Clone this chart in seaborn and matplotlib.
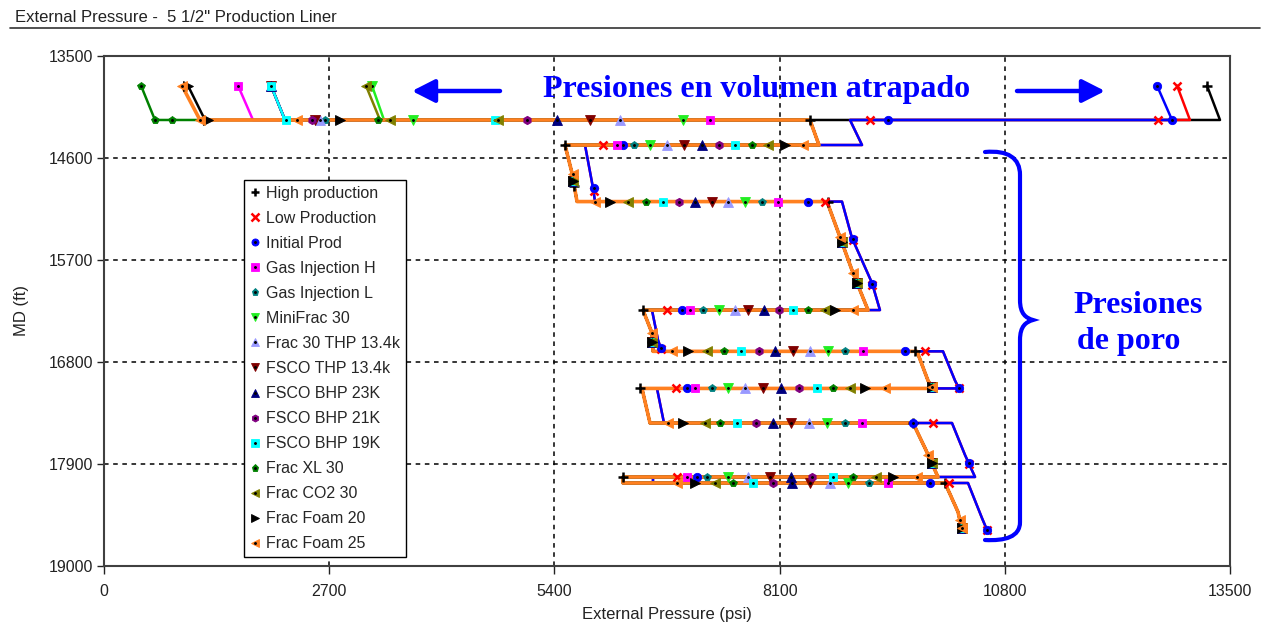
import numpy as np
import pandas as pd
import seaborn as sns
import matplotlib
matplotlib.use("Agg")
import matplotlib.pyplot as plt
from matplotlib.lines import Line2D
from matplotlib.patches import FancyArrowPatch, PathPatch
from matplotlib.path import Path

nan = np.nan

# ---------------------------------------------------------------- load cases
series = ["High production", "Low Production", "Initial Prod", "Gas Injection H",
          "Gas Injection L", "MiniFrac 30", "Frac 30 THP 13.4k", "FSCO THP 13.4k",
          "FSCO BHP 23K", "FSCO BHP 21K", "FSCO BHP 19K", "Frac XL 30",
          "Frac CO2 30", "Frac Foam 20", "Frac Foam 25"]

# which external-pressure profile each case follows below the trapped zone
profile = ["pore", "prod", "prod", "pore", "pore", "pore", "pore", "pore",
           "pore", "pore", "pore", "pore", "pore", "pore", "pore"]

# trapped-volume section (MD ft) and its pressures (psi)
trap_md = [13820, 14190]
trap_top_psi = [13224, 12865, 12625, 1607, 2002, 3213, 2002, 2002, 2002, 2002,
                2002, 444, 3141, 1007, 935]
trap_base_psi = [13380, 13020, 12805, 1786, 2170, 3357, 2170, 2170, 2170, 2170,
                 2170, 611, 3309, 1211, 1151]

# pore-pressure profile below the trapped zone
pore_psi = [8464, 8572, 5527, 5611, 5671, 8668, 8824, 8980, 9160, 6462, 6570,
            6582, 9747, 9879, 9939, 6450, 6546, 9699, 9843, 9999, 6222, 6222,
            10083, 10239, 10287]
pore_md = [14190, 14460, 14460, 14762, 15070, 15070, 15452, 15840, 16240, 16240,
           16487, 16685, 16685, 17000, 17085, 17085, 17458, 17458, 17727, 18040,
           18040, 18105, 18105, 18417, 18612]

# production-case profile below the trapped zone
prod_psi = [8944, 9088, 5767, 5863, 5887, 8848, 8968, 9208, 9303, 6570, 6642,
            6690, 10059, 10203, 10251, 6630, 6714, 10167, 10323, 10443, 6582,
            6582, 10359, 10526, 10587]
prod_md = [14190, 14460, 14460, 14923, 15070, 15070, 15463, 15948, 16240, 16240,
           16563, 16685, 16685, 17000, 17085, 17085, 17458, 17458, 17803, 18040,
           18040, 18105, 18105, 18482, 18612]

# symbol positions along the profiles, one value per case (psi), by depth
mk_14190_a = [nan] * 11 + [611] + [nan] * 3
mk_14190_b = [8464, 12637, 12805, nan, 2650, 3705, 2590, 2530, nan, 2494, 2182,
              815, 3429, 1247, 1151]
mk_14190_c = [nan, 9184, 9399, 7265, nan, 6942, 6186, 5827, 5431, 5071, 4688,
              3285, 4724, 2829, 2314]
mk_14460 = [5527, 5983, 6222, 6150, 6354, 6546, 6750, 6954, 7169, 7373, 7565,
            7769, 7961, 8165, 8380]
mk_bc_psi = [5640, 5875, 5875] + [5628] * 11 + [5623]
mk_bc_md = [14900, 14960, 14923] + [14850] * 11 + [14770]
mk_15070 = [8680, 8644, 8440, 8081, 7889, 7685, 7481, 7289, 7086, 6894, 6702,
            6498, 6282, 6066, 5887]
mk_cd1_psi = [8846, 8975, 8975] + [8846] * 11 + [8824]
mk_cd1_md = [15506, 15480, 15474] + [15506] * 11 + [15452]
mk_cd2_psi = [9029, 9211, 9211] + [9029] * 11 + [8980]
mk_cd2_md = [15948, 15965, 15958] + [15948] * 11 + [15840]
mk_16240 = [6462, 6750, 6930, 7026, 7181, 7373, 7565, 7721, 7913, 8093, 8261,
            8440, 8644, 8764, 8980]
mk_de_psi = [6576, 6676, 6676] + [6576] * 11 + [6570]
mk_de_md = [16584, 16655, 16649] + [16584] * 11 + [16487]
mk_16685 = [9723, 9843, 9603, 9100, 8884, 8680, 8464, 8261, 8045, 7853, 7637,
            7433, 7229, 7002, 6810]
mk_ef_psi = [9928, 10251, 10251] + [9928] * 11 + [9928]
mk_ef_md = [17070, 17085, 17085] + [17070] * 11 + [17070]
mk_17085 = [6426, 6858, 6990, 7086, 7289, 7481, 7685, 7901, 8117, 8332, 8548,
            8740, 8944, 9124, 9363]
mk_17458 = [9699, 9939, 9699, 9088, 8884, 8668, 8452, 8237, 8021, 7817, 7589,
            7385, 7205, 6942, 6762]
mk_gh_psi = [9924, 10367, 10367] + [9924] * 11 + [9881]
mk_gh_md = [17889, 17900, 17889] + [17889] * 11 + [17803]
mk_18040 = [6222, 6870, 7109, 6990, 7229, 7481, 7721, 7985, 8237, 8488, 8740,
            8980, 9255, 9459, 9747]
mk_18105 = [10083, 10131, 9903, 9399, 9172, 8920, 8704, 8464, 8249, 8021, 7781,
            7541, 7325, 7086, 6870]
mk_end_a = [nan] * 14 + [10260]
mk_end_b_psi = [10282, 10587, 10587] + [10282] * 12
mk_end_b_md = [18590, 18612, 18612] + [18590] * 12

x_ticks = [0, 2700, 5400, 8100, 10800, 13500]
y_ticks = [13500, 14600, 15700, 16800, 17900, 19000]

# ---------------------------------------------------------------- styles
colors = ["#000000", "#ff0000", "#0000ff", "#ff00ff", "#008080", "#22ee22",
          "#9999ff", "#800000", "#000080", "#800080", "#00ffff", "#008000",
          "#808000", "#000000", "#ff8020"]
symbols = ["+", "x", "o", "s", "p", "v", "^", "v", "^", "h", "s", "p", "<", ">", "<"]
sizes = [7, 6, 6, 6, 6, 6.5, 6.5, 6.5, 6.5, 6, 6, 6, 6.5, 6.5, 6.5]
line_widths = [1.8] * 14 + [2.6]

sns.set_theme(style="white")
plt.rcParams["font.family"] = ["Liberation Sans", "DejaVu Sans"]

W, H = 1265, 626


def fx(px):
    return px / W


def fy(py):
    return 1 - py / H


# ---------------------------------------------------------------- profiles
rows = []
for i, name in enumerate(series):
    p_psi = pore_psi if profile[i] == "pore" else prod_psi
    p_md = pore_md if profile[i] == "pore" else prod_md
    xs = [trap_top_psi[i], trap_base_psi[i]] + list(p_psi)
    ys = list(trap_md) + list(p_md)
    for k, (x, y) in enumerate(zip(xs, ys)):
        rows.append({"case": name, "psi": x, "md": y, "k": k})
lines = pd.DataFrame(rows)

fig = plt.figure(figsize=(W / 100, H / 100), dpi=100)
ax = fig.add_axes([fx(104), fy(566), (1230 - 104) / W, (566 - 56) / H])

sns.lineplot(data=lines, x="psi", y="md", hue="case", hue_order=series,
             palette=colors, sort=False, estimator=None, linewidth=1.8,
             legend=False, ax=ax)
for ln, lw in zip(ax.lines, line_widths):
    ln.set_linewidth(lw)

# ---------------------------------------------------------------- symbols
const_rows = [(trap_top_psi, trap_md[0]), (mk_14190_a, 14190), (mk_14190_b, 14190),
              (mk_14190_c, 14190), (mk_14460, 14460), (mk_bc_psi, mk_bc_md),
              (mk_15070, 15070), (mk_cd1_psi, mk_cd1_md), (mk_cd2_psi, mk_cd2_md),
              (mk_16240, 16240), (mk_de_psi, mk_de_md), (mk_16685, 16685),
              (mk_ef_psi, mk_ef_md), (mk_17085, 17085), (mk_17458, 17458),
              (mk_gh_psi, mk_gh_md), (mk_18040, 18040), (mk_18105, 18105),
              (mk_end_a, 18504), (mk_end_b_psi, mk_end_b_md)]

for i, name in enumerate(series):
    px_, py_ = [], []
    for vals, depth in const_rows:
        v = vals[i]
        if np.isnan(v):
            continue
        d = depth[i] if isinstance(depth, list) else depth
        px_.append(v)
        py_.append(d)
    lw_m = 1.8 if symbols[i] in "+x" else 0.6
    ax.plot(px_, py_, ls="none", marker=symbols[i], ms=sizes[i], color=colors[i],
            mec=colors[i], mew=lw_m, zorder=3 + i * 0.01)
    if symbols[i] not in "+x":
        ax.plot(px_, py_, ls="none", marker=".", ms=2.2, color="black",
                zorder=3.005 + i * 0.01)

# ---------------------------------------------------------------- axes
ax.set_xlim(0, 13500)
ax.set_ylim(19000, 13500)
ax.set_xticks(x_ticks)
ax.set_yticks(y_ticks)
ax.set_xticklabels([str(t) for t in x_ticks])
ax.set_yticklabels([str(t) for t in y_ticks])
ax.grid(True, color="black", linestyle=(0, (3, 3)), linewidth=1.1)
for s in ax.spines.values():
    s.set_color("#404040")
    s.set_linewidth(1.5)
    s.set_visible(True)
ax.tick_params(axis="x", direction="out", length=6, width=1, pad=7,
               labelsize=11.5, colors="#222222", bottom=True)
ax.tick_params(axis="y", direction="out", length=5, width=1, pad=3,
               labelsize=11.5, colors="#222222", left=True)
ax.set_xlabel("External Pressure (psi)", fontsize=12, color="#222222", labelpad=6)
ax.set_ylabel("MD (ft)", fontsize=12, color="#222222", labelpad=14)

# ---------------------------------------------------------------- legend
handles = []
for i, name in enumerate(series):
    h1 = Line2D([], [], ls="none", marker=symbols[i], ms=sizes[i] * 0.85,
                color=colors[i], mec=colors[i],
                mew=1.8 if symbols[i] in "+x" else 0.6)
    if symbols[i] in "+x":
        handles.append(h1)
    else:
        h2 = Line2D([], [], ls="none", marker=".", ms=2.2, color="black")
        handles.append((h1, h2))
leg = ax.legend(handles, series, loc="upper left",
                bbox_to_anchor=(fx(244), fy(180)), bbox_transform=fig.transFigure,
                fontsize=11.5, frameon=True, fancybox=False, framealpha=1,
                edgecolor="black", borderpad=0.35, labelspacing=0.63,
                handlelength=0.7, handletextpad=0.35, borderaxespad=0)
leg.get_frame().set_linewidth(1.0)
leg.set_zorder(10)

# ---------------------------------------------------------------- header
fig.text(fx(15), fy(17), 'External Pressure -  5 1/2" Production Liner',
         fontsize=12, color="#222222", ha="left", va="center")
fig.add_artist(Line2D([fx(10), fx(1260)], [fy(28), fy(28)],
                      transform=fig.transFigure, color="#333333", lw=1.2))

# ---------------------------------------------------------------- notes
note = dict(family=["Liberation Serif", "DejaVu Serif"], fontweight="bold",
            color="#0000ff", fontsize=23)
fig.text(fx(757), fy(90), "Presiones en volumen atrapado", ha="center",
         va="center", **note)
fig.text(fx(1073), fy(305), "Presiones", ha="left", va="center", **note)
fig.text(fx(1077), fy(341), "de poro", ha="left", va="center", **note)

arrow_style = "-|>,head_length=0.55,head_width=0.28"
for a, b in [((500, 91), (412, 91)), ((1017, 91), (1105, 91))]:
    fig.add_artist(FancyArrowPatch((fx(a[0]), fy(a[1])), (fx(b[0]), fy(b[1])),
                                   transform=fig.transFigure, arrowstyle=arrow_style,
                                   mutation_scale=25, lw=3.2, color="#0000ff",
                                   shrinkA=0, shrinkB=0))

brace_px = [(985, 152), (1008, 150), (1020, 158), (1020, 175), (1020, 300),
            (1020, 314), (1026, 318), (1033, 320), (1026, 322), (1020, 326),
            (1020, 340), (1020, 522), (1020, 537), (1005, 541), (985, 540)]
codes = [Path.MOVETO, Path.CURVE4, Path.CURVE4, Path.CURVE4, Path.LINETO,
         Path.CURVE4, Path.CURVE4, Path.CURVE4, Path.CURVE4, Path.CURVE4,
         Path.CURVE4, Path.LINETO, Path.CURVE4, Path.CURVE4, Path.CURVE4]
brace = Path([(fx(x), fy(y)) for x, y in brace_px], codes)
fig.add_artist(PathPatch(brace, transform=fig.transFigure, fill=False,
                         edgecolor="#0000ff", lw=3.0, capstyle="round"))

fig.savefig("out.png", dpi=100)
